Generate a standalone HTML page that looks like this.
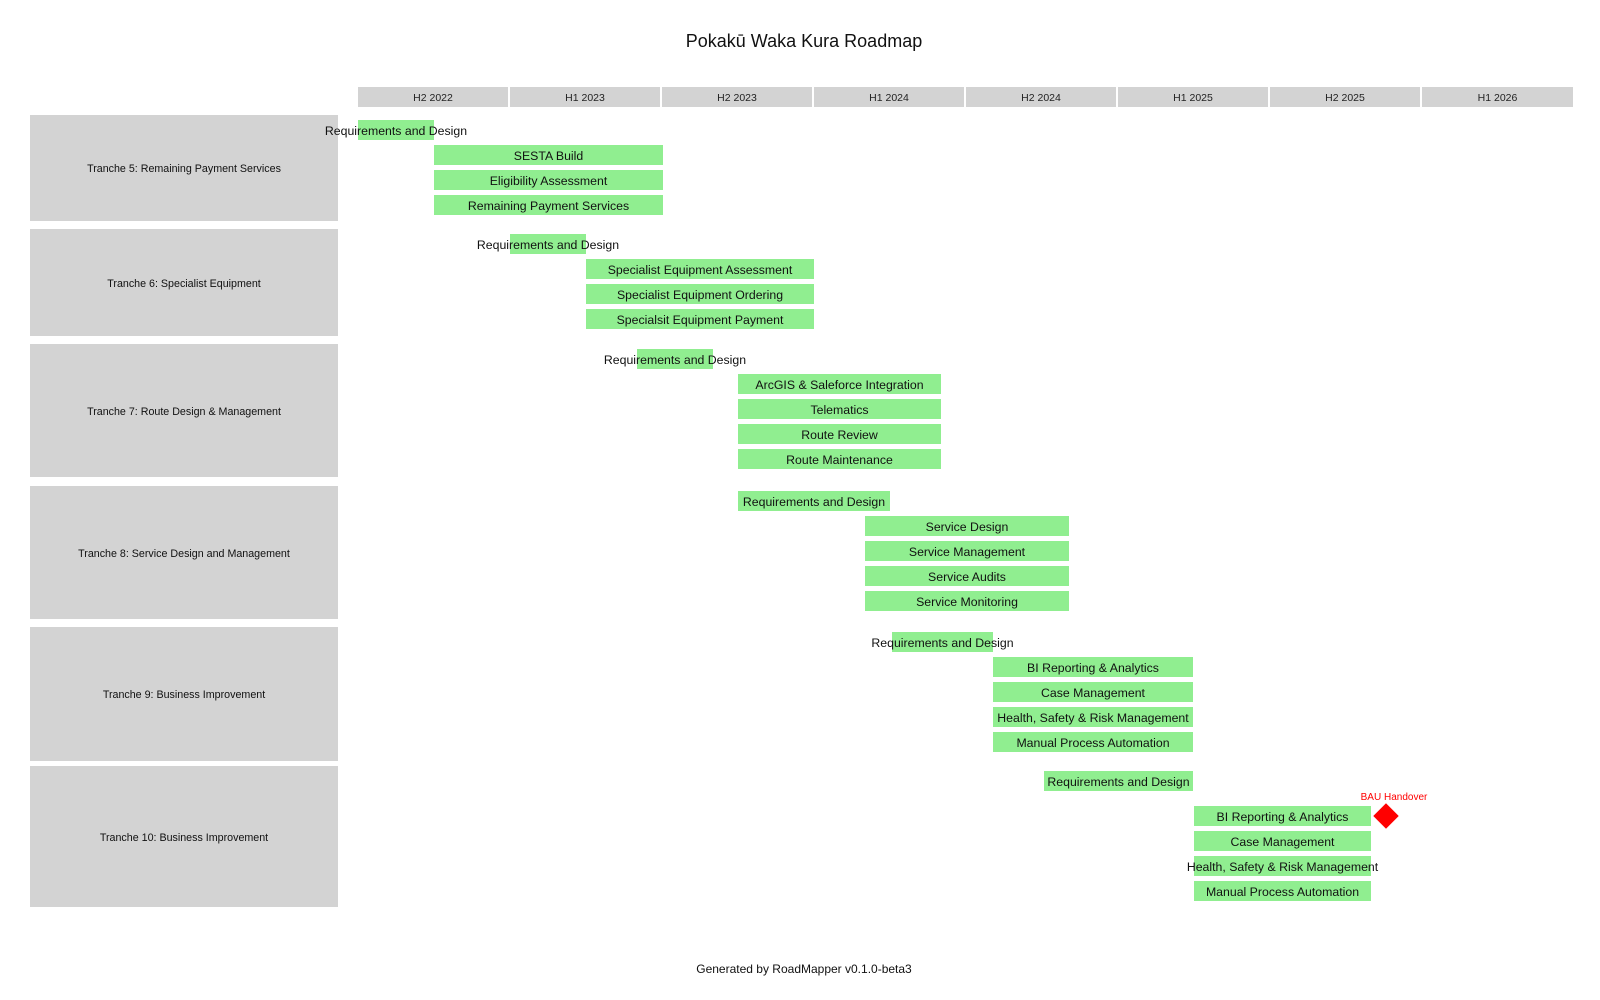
<!DOCTYPE html>
<html><head><meta charset="utf-8"><style>
body{margin:0;width:1600px;height:1000px;background:#fff;position:relative;overflow:hidden;font-family:"Liberation Sans",Arial,sans-serif;}
.a{position:absolute;}
.h{position:absolute;top:87px;height:20px;background:#d3d3d3;font-size:10.5px;line-height:23px;text-align:center;color:#222;}
.t{position:absolute;left:30px;width:308px;background:#d3d3d3;font-size:10.7px;color:#111;display:flex;align-items:center;justify-content:center;padding-top:2px;box-sizing:border-box;}
.b{position:absolute;height:20px;background:#90ee90;font-size:12.3px;line-height:22px;color:#111;display:flex;justify-content:center;white-space:nowrap;}
</style></head><body>
<div class="a" style="left:0;width:1608px;top:31px;text-align:center;font-size:18px;color:#111;">Pokakū Waka Kura Roadmap</div>

<div class="h" style="left:358px;width:150px">H2 2022</div>
<div class="h" style="left:510px;width:150px">H1 2023</div>
<div class="h" style="left:662px;width:150px">H2 2023</div>
<div class="h" style="left:814px;width:150px">H1 2024</div>
<div class="h" style="left:966px;width:150px">H2 2024</div>
<div class="h" style="left:1118px;width:150px">H1 2025</div>
<div class="h" style="left:1270px;width:150px">H2 2025</div>
<div class="h" style="left:1422px;width:151px">H1 2026</div>

<div class="t" style="top:115px;height:106px">Tranche 5: Remaining Payment Services</div>
<div class="t" style="top:229px;height:107px">Tranche 6: Specialist Equipment</div>
<div class="t" style="top:344px;height:133px">Tranche 7: Route Design &amp; Management</div>
<div class="t" style="top:486px;height:133px">Tranche 8: Service Design and Management</div>
<div class="t" style="top:627px;height:134px">Tranche 9: Business Improvement</div>
<div class="t" style="top:766px;height:141px">Tranche 10: Business Improvement</div>

<div class="b" style="left:358px;width:76px;top:120px">Requirements and Design</div>
<div class="b" style="left:434px;width:229px;top:145px">SESTA Build</div>
<div class="b" style="left:434px;width:229px;top:170px">Eligibility Assessment</div>
<div class="b" style="left:434px;width:229px;top:195px">Remaining Payment Services</div>

<div class="b" style="left:510px;width:76px;top:234px">Requirements and Design</div>
<div class="b" style="left:586px;width:228px;top:259px">Specialist Equipment Assessment</div>
<div class="b" style="left:586px;width:228px;top:284px">Specialist Equipment Ordering</div>
<div class="b" style="left:586px;width:228px;top:309px">Specialsit Equipment Payment</div>

<div class="b" style="left:637px;width:76px;top:349px">Requirements and Design</div>
<div class="b" style="left:738px;width:203px;top:374px">ArcGIS &amp; Saleforce Integration</div>
<div class="b" style="left:738px;width:203px;top:399px">Telematics</div>
<div class="b" style="left:738px;width:203px;top:424px">Route Review</div>
<div class="b" style="left:738px;width:203px;top:449px">Route Maintenance</div>

<div class="b" style="left:738px;width:152px;top:491px">Requirements and Design</div>
<div class="b" style="left:865px;width:204px;top:516px">Service Design</div>
<div class="b" style="left:865px;width:204px;top:541px">Service Management</div>
<div class="b" style="left:865px;width:204px;top:566px">Service Audits</div>
<div class="b" style="left:865px;width:204px;top:591px">Service Monitoring</div>

<div class="b" style="left:892px;width:101px;top:632px">Requirements and Design</div>
<div class="b" style="left:993px;width:200px;top:657px">BI Reporting &amp; Analytics</div>
<div class="b" style="left:993px;width:200px;top:682px">Case Management</div>
<div class="b" style="left:993px;width:200px;top:707px">Health, Safety &amp; Risk Management</div>
<div class="b" style="left:993px;width:200px;top:732px">Manual Process Automation</div>

<div class="b" style="left:1044px;width:149px;top:771px">Requirements and Design</div>
<div class="b" style="left:1194px;width:177px;top:806px">BI Reporting &amp; Analytics</div>
<div class="b" style="left:1194px;width:177px;top:831px">Case Management</div>
<div class="b" style="left:1194px;width:177px;top:856px">Health, Safety &amp; Risk Management</div>
<div class="b" style="left:1194px;width:177px;top:881px">Manual Process Automation</div>

<div class="a" style="left:1377px;top:807px;width:18px;height:18px;background:#f00;transform:rotate(45deg)"></div>
<div class="a" style="left:1344px;width:100px;top:792px;text-align:center;font-size:10px;color:#f00">BAU Handover</div>

<div class="a" style="left:0;width:1608px;top:962px;text-align:center;font-size:12px;color:#111">Generated by RoadMapper v0.1.0-beta3</div>
</body></html>
